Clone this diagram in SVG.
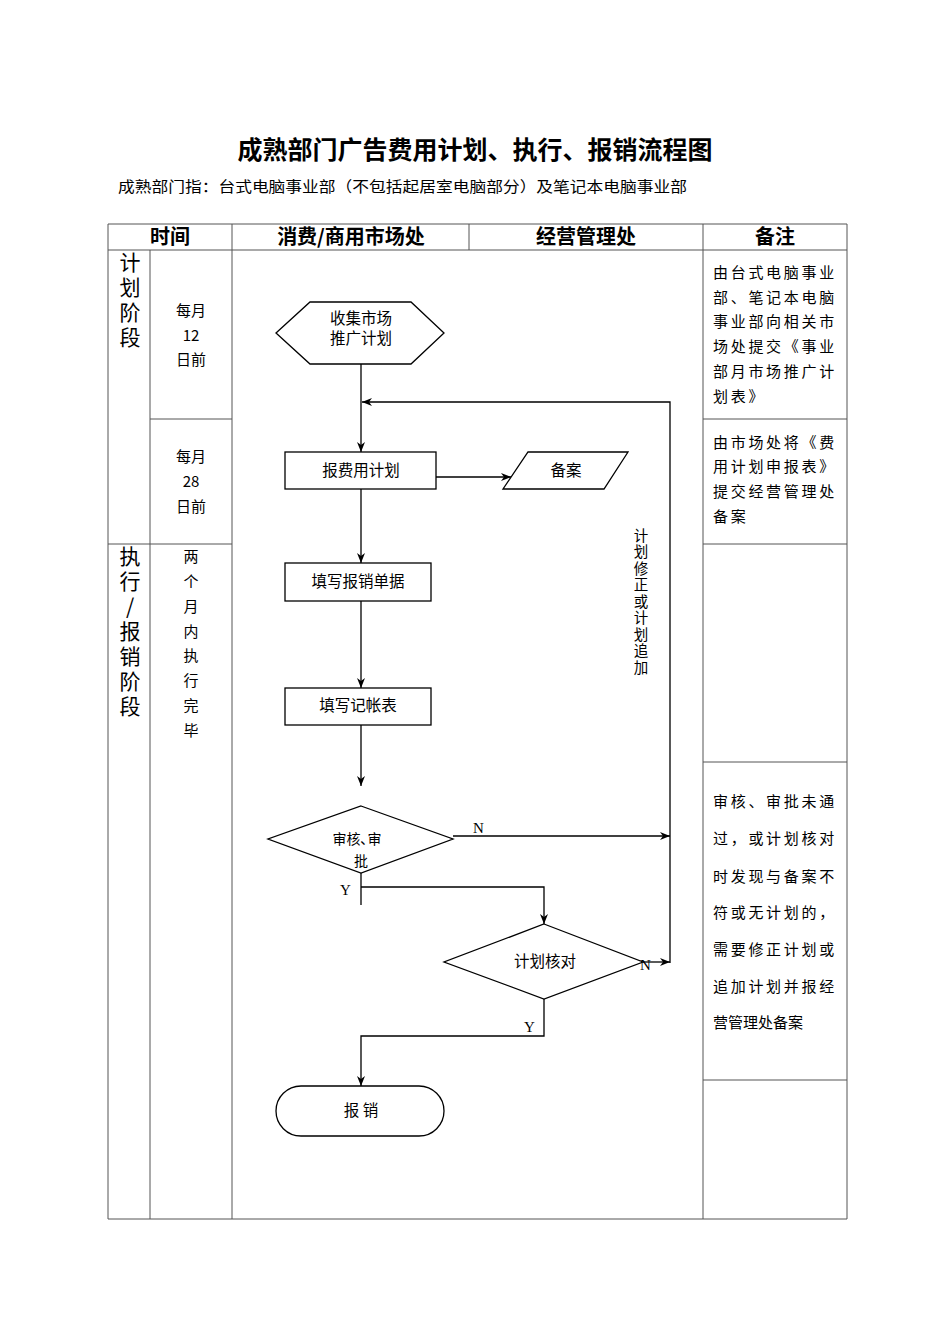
<svg xmlns="http://www.w3.org/2000/svg" width="950" height="1344" viewBox="0 0 950 1344">
<style>
text{font-family:"Noto Sans CJK SC","Noto Sans",sans-serif;fill:#000}
.title{font-size:25px;font-weight:bold}
.sub{font-size:15px}
.hd{font-size:20px;font-weight:bold}
.vert{writing-mode:vertical-rl;text-orientation:upright}
.stage{font-size:21px;letter-spacing:4px}
.tm{font-size:15px}
.tmv{font-size:15px;letter-spacing:9.8px}
.loop{font-size:14.5px;letter-spacing:2px}
.rm{font-size:15px;letter-spacing:2.7px}
.nd{font-size:15.5px}
.nds{font-size:14px}
.yn{font-family:"Liberation Serif",serif;font-size:15px}
.grid line{stroke:#555;stroke-width:1}
.shape{fill:#fff;stroke:#000;stroke-width:1.3}
.conn{stroke:#000;stroke-width:1.3;fill:none}
</style>
<defs>
<marker id="arr" markerUnits="userSpaceOnUse" markerWidth="10" markerHeight="10" refX="10" refY="5" orient="auto">
<path d="M0,1 L10,5 L0,9 L3,5 Z" fill="#000"/>
</marker>
</defs>
<rect width="950" height="1344" fill="#fff"/>
<text class="title" x="475" y="159" text-anchor="middle">成熟部门广告费用计划、执行、报销流程图</text>
<text class="sub" x="118" y="192" textLength="569" lengthAdjust="spacingAndGlyphs">成熟部门指：台式电脑事业部（不包括起居室电脑部分）及笔记本电脑事业部</text>
<g id="table" class="grid">
<line x1="108" y1="224" x2="847" y2="224"/>
<line x1="108" y1="250" x2="847" y2="250"/>
<line x1="108" y1="1219" x2="847" y2="1219"/>
<line x1="108" y1="224" x2="108" y2="1219"/>
<line x1="847" y1="224" x2="847" y2="1219"/>
<line x1="150" y1="250" x2="150" y2="1219"/>
<line x1="232" y1="224" x2="232" y2="1219"/>
<line x1="469" y1="224" x2="469" y2="250"/>
<line x1="703" y1="224" x2="703" y2="1219"/>
<line x1="150" y1="419" x2="232" y2="419"/>
<line x1="108" y1="544" x2="232" y2="544"/>
<line x1="703" y1="419" x2="847" y2="419"/>
<line x1="703" y1="544" x2="847" y2="544"/>
<line x1="703" y1="762" x2="847" y2="762"/>
<line x1="703" y1="1080" x2="847" y2="1080"/>
</g>
<g id="headers">
<text class="hd" x="170" y="244" text-anchor="middle">时间</text>
<text class="hd" x="351" y="244" text-anchor="middle">消费/商用市场处</text>
<text class="hd" x="586" y="244" text-anchor="middle">经营管理处</text>
<text class="hd" x="775" y="244" text-anchor="middle">备注</text>
</g>
<g id="stage-plan">
<text class="stage vert" x="130" y="252">计划阶段</text>
</g>
<g id="stage-exec">
<text class="stage vert" x="130" y="546">执行/报销阶段</text>
</g>
<g id="time-12">
<text class="tm" x="191" y="316" text-anchor="middle">每月</text>
<text class="tm" x="191" y="341" text-anchor="middle">12</text>
<text class="tm" x="191" y="365" text-anchor="middle">日前</text>
</g>
<g id="time-28">
<text class="tm" x="191" y="462" text-anchor="middle">每月</text>
<text class="tm" x="191" y="487" text-anchor="middle">28</text>
<text class="tm" x="191" y="512" text-anchor="middle">日前</text>
</g>
<g id="time-exec">
<text class="tmv vert" x="191" y="549">两个月内执行完毕</text>
</g>
<g id="remark-1">
<text class="rm" x="713" y="278">由台式电脑事业</text>
<text class="rm" x="713" y="303">部、笔记本电脑</text>
<text class="rm" x="713" y="327">事业部向相关市</text>
<text class="rm" x="713" y="352">场处提交《事业</text>
<text class="rm" x="713" y="377">部月市场推广计</text>
<text class="rm" x="713" y="402">划表》</text>
</g>
<g id="remark-2">
<text class="rm" x="713" y="448">由市场处将《费</text>
<text class="rm" x="713" y="472">用计划申报表》</text>
<text class="rm" x="713" y="497">提交经营管理处</text>
<text class="rm" x="713" y="522">备案</text>
</g>
<g id="remark-3">
<text class="rm" x="713" y="807">审核、审批未通</text>
<text class="rm" x="713" y="844">过，或计划核对</text>
<text class="rm" x="713" y="882">时发现与备案不</text>
<text class="rm" x="713" y="918">符或无计划的，</text>
<text class="rm" x="713" y="955">需要修正计划或</text>
<text class="rm" x="713" y="992">追加计划并报经</text>
<text class="tm" x="713" y="1028">营管理处备案</text>
</g>
<g id="connectors">
<line class="conn" x1="361" y1="364" x2="361" y2="452" marker-end="url(#arr)"/>
<polyline class="conn" points="670,963 670,402 362,402" marker-end="url(#arr)"/>
<line class="conn" x1="436" y1="477" x2="511" y2="477" marker-end="url(#arr)"/>
<line class="conn" x1="361" y1="489" x2="361" y2="563" marker-end="url(#arr)"/>
<line class="conn" x1="361" y1="601" x2="361" y2="688" marker-end="url(#arr)"/>
<line class="conn" x1="361" y1="725" x2="361" y2="786" marker-end="url(#arr)"/>
<line class="conn" x1="453" y1="836" x2="670" y2="836" marker-end="url(#arr)"/>
<line class="conn" x1="361" y1="873" x2="361" y2="905"/>
<polyline class="conn" points="361,887 544,887 544,924" marker-end="url(#arr)"/>
<line class="conn" x1="643" y1="962" x2="670" y2="962" marker-end="url(#arr)"/>
<polyline class="conn" points="544,999 544,1036 361,1036 361,1086" marker-end="url(#arr)"/>
<text class="yn" x="473" y="833">N</text>
<text class="yn" x="340" y="895">Y</text>
<text class="yn" x="640" y="970">N</text>
<text class="yn" x="524" y="1032">Y</text>
<text class="loop vert" x="641" y="528">计划修正或计划追加</text>
</g>
<g id="n-collect">
<polygon class="shape" points="276,333 310,302 411,302 444,333 411,364 310,364"/>
<text class="nd" text-anchor="middle"><tspan x="361" y="324">收集市场</tspan><tspan x="361" y="344">推广计划</tspan></text>
</g>
<g id="n-report">
<rect class="shape" x="285" y="452" width="151" height="37"/>
<text class="nd" x="361" y="476" text-anchor="middle">报费用计划</text>
</g>
<g id="n-file">
<polygon class="shape" points="528,452 628,452 604,489 503,489"/>
<text class="nd" x="566" y="476" text-anchor="middle">备案</text>
</g>
<g id="n-voucher">
<rect class="shape" x="285" y="563" width="146" height="38"/>
<text class="nd" x="358" y="587" text-anchor="middle">填写报销单据</text>
</g>
<g id="n-ledger">
<rect class="shape" x="285" y="688" width="146" height="37"/>
<text class="nd" x="358" y="711" text-anchor="middle">填写记帐表</text>
</g>
<g id="n-audit">
<polygon class="shape" points="361,806 453,839 361,873 268,839"/>
<text class="nds" text-anchor="middle"><tspan x="357" y="844">审核､审</tspan><tspan x="361" y="866">批</tspan></text>
</g>
<g id="n-check">
<polygon class="shape" points="544,924 643,962 544,999 444,962"/>
<text class="nd" x="545" y="967" text-anchor="middle">计划核对</text>
</g>
<g id="n-reimburse">
<rect class="shape" x="276" y="1086" width="168" height="50" rx="25" ry="25"/>
<text class="nd" x="361" y="1116" text-anchor="middle">报  销</text>
</g>
</svg>
